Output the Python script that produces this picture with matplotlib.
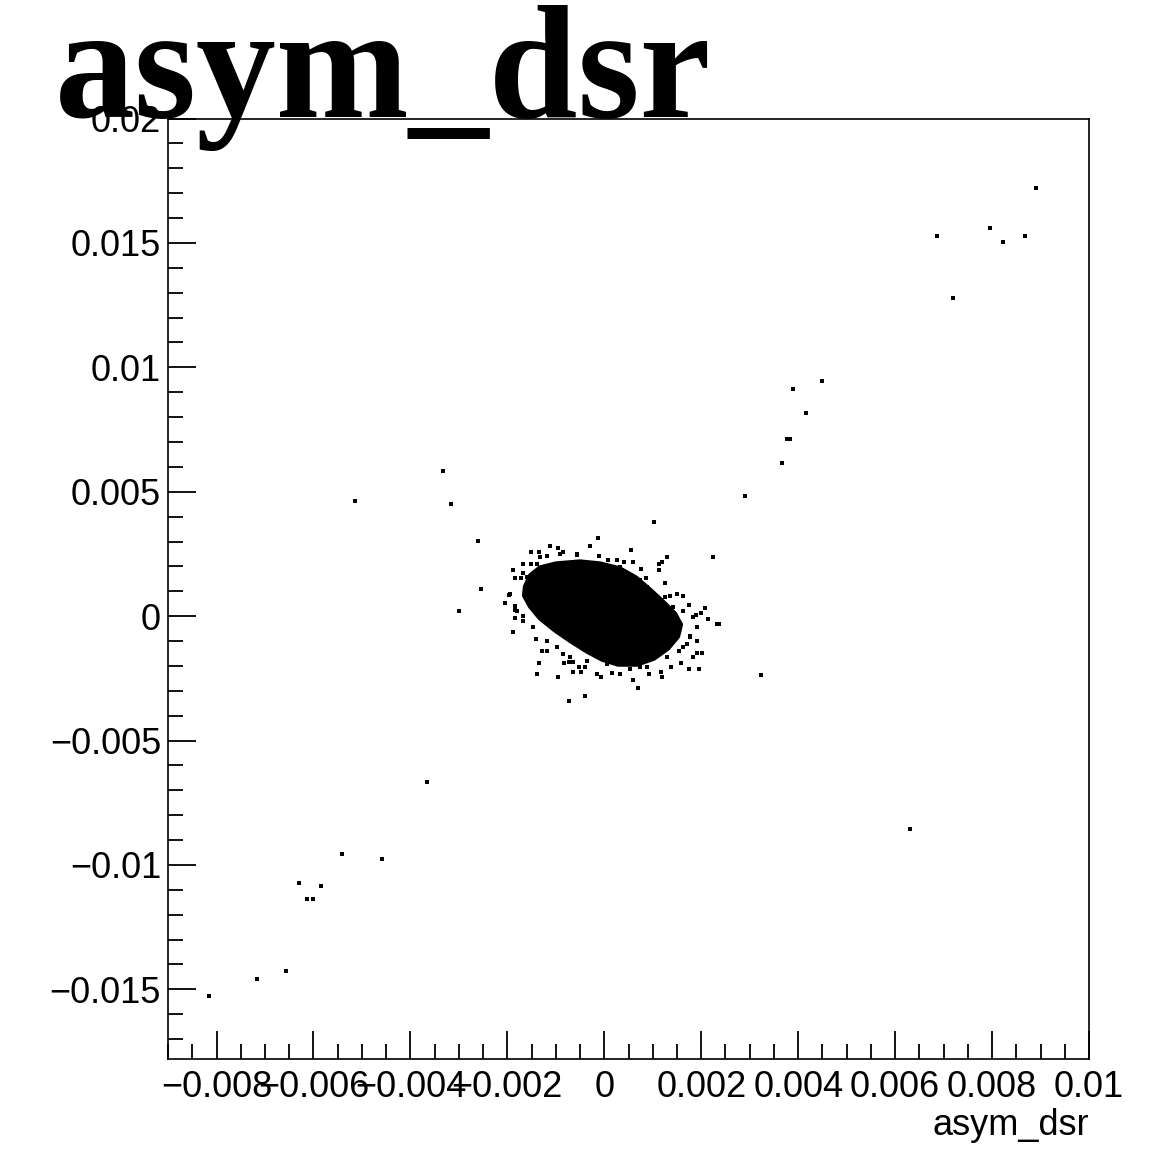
import numpy as np
import matplotlib

matplotlib.use("Agg")
import matplotlib.pyplot as plt
from matplotlib.ticker import FixedLocator, MultipleLocator

# isolated events far from the core (asym_dsr vs. second asymmetry)
outlier_x = [0.00890, 0.006858, 0.007958, 0.008232, 0.008673, 0.007188,
             0.004491, 0.003887, 0.004161, 0.00376, 0.00384, 0.003666,
             0.002897, -0.003652, -0.005412, -0.004586, -0.006293, -0.005851,
             -0.006128, -0.006016, -0.006567, -0.007171, -0.008162, -0.005137,
             -0.003322, -0.003157, -0.002606, -0.002550, -0.002992, 0.006307,
             0.001025, 0.002236, 0.003227, 0.002319, 0.00236]
outlier_y = [0.01720, 0.01527, 0.01559, 0.01505, 0.01527, 0.01280,
             0.009464, 0.009142, 0.008175, 0.007103, 0.007103, 0.006136,
             0.004847, -0.006652, -0.009553, -0.009766, -0.01073, -0.01084,
             -0.01138, -0.01138, -0.01428, -0.01460, -0.01525, 0.004629,
             0.005814, 0.004525, 0.003018, 0.001084, 0.000226, -0.008558,
             0.003771, 0.002373, -0.002353, -0.000310, -0.000310]

# sparse events on the edge of the central cluster (units of 1e-3)
fringe_x = [-2.055, -1.960, 1.300, 2.084, 2.139, 2.016, 1.960, 1.741, 1.190,
            -0.734, -0.404, -1.395, -0.955, -1.341, -1.890, -1.836, -1.285,
            -1.176, -1.409, -0.652, -0.846, -0.831, -0.734, -0.640, -0.475,
            -0.157, -0.074, -0.392, -0.528, 0.695, 0.586, 1.906, 1.576, 1.382,
            0.928, 0.324, 0.159, 1.836, 1.700, 1.906, 1.768, 1.547, 1.176,
            0.737, -0.130, -1.120, -0.295, -1.506, -1.341, -0.955, -0.846,
            -1.176, -0.569, -0.116, -1.671, -1.506, -1.395, -1.890, -1.671,
            -1.836, -1.725, -1.946, -1.836, -1.052, -0.900, -0.516, 0.545,
            1.190, 1.135, 1.135, 0.256, 0.076, 0.406, 0.598, 0.751, 0.860,
            1.246, 1.630, 1.494, 1.355, 1.741, 1.989, 1.892,
            -1.807, -1.671, -1.836, -1.601, -1.465, -1.327, -0.914, -0.569,
            0.324, 0.737, 0.875, 1.252, 1.424, 1.630, 1.836, 1.906, 1.768,
            1.630, 1.287, 0.875, 0.530, 0.050, -0.363, -0.708, -0.982,
            -1.188, -1.465, -1.671]
fringe_y = [0.548, 0.870, 2.373, 0.334, -0.097, -1.495, -2.139, -2.139, -2.462,
            -3.400, -3.211, -2.325, -2.462, -1.898, -0.633, -0.068, -1.386,
            -1.386, -0.931, -2.244, -1.519, -1.898, -1.841, -1.841, -2.244,
            -2.325, -2.462, -2.059, -2.059, -2.889, -2.566, -1.495, -1.898,
            -2.031, -2.325, -2.325, -2.272, -1.656, -1.116, -0.983, -0.794,
            -1.414, -2.244, -2.059, 3.155, 2.832, 2.832, 2.591, 2.591, 2.724,
            2.591, 2.401, 2.482, 2.401, 2.079, 2.079, 2.079, 1.837, 1.728,
            1.543, 1.543, 0.898, 0.254, 1.865, 1.970, 1.970, 2.643, 2.188,
            2.079, 1.865, 2.268, 2.268, 2.160, 2.160, 1.890, 1.543, 1.326,
            0.790, 0.898, 0.790, 0.467, 0.145, 0.036,
            0.226, 0.024, 0.427, 1.567, 1.704, 2.373, 2.510, 2.442,
            1.970, 1.434, 1.164, 0.761, 0.359, 0.226, -0.044, -0.447, -0.850,
            -1.253, -1.656, -2.059, -2.123, -1.922, -1.789, -1.656, -1.253,
            -0.983, -0.447, -0.177]

# outline of the saturated core of the cluster (units of 1e-3)
core_x = [-1.657, -1.636, -1.533, -1.327, -0.996, -0.501, -0.089, 0.324,
          0.654, 0.943, 1.211, 1.459, 1.582, 1.521, 1.314, 1.025, 0.675,
          0.283, -0.047, -0.357, -0.687, -1.017, -1.327, -1.533]
core_y = [0.830, 1.193, 1.636, 1.958, 2.119, 2.200, 2.119, 1.918, 1.555,
          1.072, 0.588, 0.105, -0.338, -0.822, -1.305, -1.708, -1.950,
          -1.950, -1.749, -1.426, -1.023, -0.580, -0.097, 0.387]

x_ticks = [-0.008, -0.006, -0.004, -0.002, 0.0, 0.002, 0.004, 0.006, 0.008, 0.01]
x_tick_labels = ["\u22120.008", "\u22120.006", "\u22120.004", "\u22120.002", "0",
                 "0.002", "0.004", "0.006", "0.008", "0.01"]
y_ticks = [-0.015, -0.01, -0.005, 0.0, 0.005, 0.01, 0.015, 0.02]
y_tick_labels = ["\u22120.015", "\u22120.01", "\u22120.005", "0",
                 "0.005", "0.01", "0.015", "0.02"]

title_text = "asym_dsr"
x_title = "asym_dsr"


def main() -> None:
    plt.rcParams["font.family"] = ["Liberation Sans", "DejaVu Sans"]

    fig = plt.figure(figsize=(11.67, 11.53), dpi=100)
    ax = fig.add_axes((0.1440, 0.0815, 0.7892, 0.8157))

    # dense core drawn as a filled region, then the individual events
    ax.fill(np.array(core_x) * 1e-3, np.array(core_y) * 1e-3,
            color="black", lw=3.0, joinstyle="round", zorder=2)
    ax.plot(np.array(fringe_x) * 1e-3, np.array(fringe_y) * 1e-3, "s",
            ms=2.2, mew=0, color="black", zorder=3)
    ax.plot(outlier_x, outlier_y, "s", ms=2.2, mew=0, color="black", zorder=3)

    ax.set_xlim(-0.009, 0.01)
    ax.set_ylim(-0.0178, 0.02)

    ax.xaxis.set_major_locator(FixedLocator(x_ticks))
    ax.set_xticklabels(x_tick_labels)
    ax.xaxis.set_minor_locator(MultipleLocator(0.0005))
    ax.yaxis.set_major_locator(FixedLocator(y_ticks))
    ax.set_yticklabels(y_tick_labels)
    ax.yaxis.set_minor_locator(MultipleLocator(0.001))

    ax.tick_params(which="both", direction="in", top=False, right=False,
                   width=1.3, colors="black", labelsize=26)
    ax.tick_params(which="major", length=20)
    ax.tick_params(which="minor", length=10.5)
    ax.tick_params(axis="x", which="major", pad=8)
    ax.tick_params(axis="y", which="major", pad=5)

    for spine in ax.spines.values():
        spine.set_linewidth(1.2)

    ax.set_xlabel(x_title, fontsize=26, loc="right")
    ax.xaxis.set_label_coords(1.0, -0.052)

    # big ROOT-style histogram title, overlapping the frame
    fig.text(55 / 1167, 0.8985, title_text, fontsize=115, fontweight="bold",
             family=["Liberation Serif", "DejaVu Serif"], va="baseline",
             ha="left", zorder=10)

    fig.savefig("out.png", dpi=100, facecolor="white")
    plt.close(fig)


if __name__ == "__main__":
    main()
